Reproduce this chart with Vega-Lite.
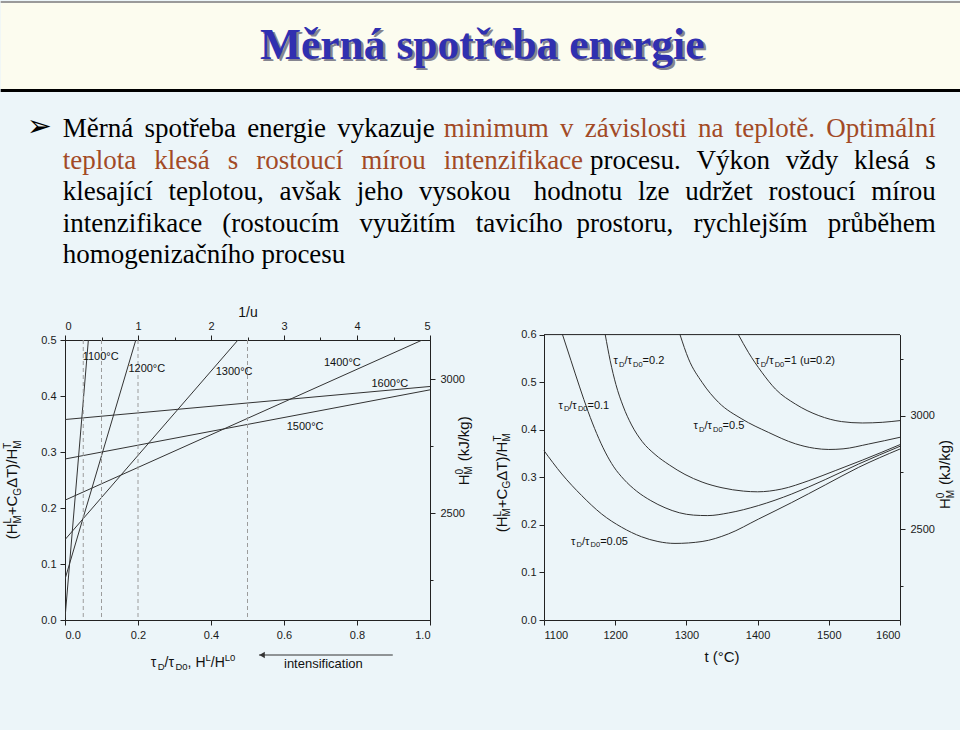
{
  "$schema": "https://vega.github.io/schema/vega-lite/v6.json",
  "padding": 0,
  "autosize": {"type": "pad"},
  "background": "#ecf5f9",
  "columns": 1,
  "align": "none",
  "spacing": 0,
  "datasets": {
    "one": [{}],
    "para": [
      {"line": 1, "side": "left", "style": "plain", "text": "Měrná \u2006spotřeba \u2006energie \u2006vykazuje"},
      {"line": 1, "side": "right", "style": "highlight", "text": "minimum \u2006v \u2006závislosti \u2006na \u2006teplotě. \u2006Optimální"},
      {"line": 2, "side": "left", "style": "highlight", "text": "teplota \u2004\u200Aklesá \u2004\u200As \u2004\u200Arostoucí \u2004\u200Amírou \u2004\u200Aintenzifikace"},
      {"line": 2, "side": "right", "style": "plain", "text": "procesu. \u2004Výkon \u2004vždy \u2004klesá \u2004s"},
      {"line": 3, "side": "left", "style": "plain", "text": "klesající \u2004teplotou, \u2004avšak \u2004jeho \u2004vysokou"},
      {"line": 3, "side": "right", "style": "plain", "text": "hodnotu \u2004lze \u2004udržet \u2004rostoucí \u2004mírou"},
      {"line": 4, "side": "left", "style": "plain", "text": "intenzifikace \u2004\u2006(rostoucím \u2004\u2006využitím \u2004\u2006tavicího"},
      {"line": 4, "side": "right", "style": "plain", "text": "prostoru, \u2004\u2006rychlejším \u2004\u2006průběhem"},
      {"line": 5, "side": "left", "style": "plain", "text": "homogenizačního procesu"}
    ],
    "leftLines": [
      {"T": "1100", "x": 0, "y": 0.003}, {"T": "1100", "x": 0.064, "y": 0.5},
      {"T": "1200", "x": 0, "y": 0.073}, {"T": "1200", "x": 0.194, "y": 0.5},
      {"T": "1300", "x": 0, "y": 0.1435}, {"T": "1300", "x": 0.474, "y": 0.5},
      {"T": "1400", "x": 0, "y": 0.214}, {"T": "1400", "x": 0.979, "y": 0.5},
      {"T": "1500", "x": 0, "y": 0.2875}, {"T": "1500", "x": 1, "y": 0.411},
      {"T": "1600", "x": 0, "y": 0.358}, {"T": "1600", "x": 1, "y": 0.417}
    ],
    "dashes": [{"x": 0.05}, {"x": 0.1}, {"x": 0.2}, {"x": 0.5}],
    "leftLabels": [
      {"label": "1100°C", "x": 0.0485, "y": 0.4637},
      {"label": "1200°C", "x": 0.1737, "y": 0.4423},
      {"label": "1300°C", "x": 0.4129, "y": 0.437},
      {"label": "1400°C", "x": 0.7096, "y": 0.453},
      {"label": "1600°C", "x": 0.8395, "y": 0.4155},
      {"label": "1500°C", "x": 0.6074, "y": 0.3396}
    ],
    "rightCurves": [
      {"tau": "0.05", "t": 1100, "r": 0.356}, {"tau": "0.05", "t": 1125, "r": 0.307}, {"tau": "0.05", "t": 1153, "r": 0.2615},
      {"tau": "0.05", "t": 1181, "r": 0.2228}, {"tau": "0.05", "t": 1209, "r": 0.195}, {"tau": "0.05", "t": 1237, "r": 0.175},
      {"tau": "0.05", "t": 1260, "r": 0.165}, {"tau": "0.05", "t": 1284, "r": 0.161}, {"tau": "0.05", "t": 1322, "r": 0.165},
      {"tau": "0.05", "t": 1359, "r": 0.181}, {"tau": "0.05", "t": 1401, "r": 0.212}, {"tau": "0.05", "t": 1448, "r": 0.247},
      {"tau": "0.05", "t": 1495, "r": 0.284}, {"tau": "0.05", "t": 1542, "r": 0.321}, {"tau": "0.05", "t": 1600, "r": 0.3595},
      {"tau": "0.1", "t": 1126, "r": 0.6}, {"tau": "0.1", "t": 1138, "r": 0.545}, {"tau": "0.1", "t": 1150, "r": 0.49},
      {"tau": "0.1", "t": 1162, "r": 0.438}, {"tau": "0.1", "t": 1174, "r": 0.392}, {"tau": "0.1", "t": 1186, "r": 0.353},
      {"tau": "0.1", "t": 1198, "r": 0.322}, {"tau": "0.1", "t": 1212, "r": 0.296}, {"tau": "0.1", "t": 1230, "r": 0.271},
      {"tau": "0.1", "t": 1250, "r": 0.251}, {"tau": "0.1", "t": 1270, "r": 0.236}, {"tau": "0.1", "t": 1290, "r": 0.2255},
      {"tau": "0.1", "t": 1310, "r": 0.2205}, {"tau": "0.1", "t": 1330, "r": 0.2195}, {"tau": "0.1", "t": 1359, "r": 0.225},
      {"tau": "0.1", "t": 1401, "r": 0.2405}, {"tau": "0.1", "t": 1448, "r": 0.2649}, {"tau": "0.1", "t": 1495, "r": 0.2952},
      {"tau": "0.1", "t": 1542, "r": 0.328}, {"tau": "0.1", "t": 1600, "r": 0.3652},
      {"tau": "0.2", "t": 1186, "r": 0.6}, {"tau": "0.2", "t": 1193, "r": 0.545}, {"tau": "0.2", "t": 1201, "r": 0.495},
      {"tau": "0.2", "t": 1211, "r": 0.45}, {"tau": "0.2", "t": 1223, "r": 0.41}, {"tau": "0.2", "t": 1238, "r": 0.375},
      {"tau": "0.2", "t": 1256, "r": 0.348}, {"tau": "0.2", "t": 1276, "r": 0.326}, {"tau": "0.2", "t": 1298, "r": 0.306},
      {"tau": "0.2", "t": 1322, "r": 0.29}, {"tau": "0.2", "t": 1350, "r": 0.278}, {"tau": "0.2", "t": 1380, "r": 0.271},
      {"tau": "0.2", "t": 1400, "r": 0.2695}, {"tau": "0.2", "t": 1434, "r": 0.2754}, {"tau": "0.2", "t": 1472, "r": 0.293},
      {"tau": "0.2", "t": 1509, "r": 0.314}, {"tau": "0.2", "t": 1547, "r": 0.336}, {"tau": "0.2", "t": 1600, "r": 0.3687},
      {"tau": "0.5", "t": 1291, "r": 0.6}, {"tau": "0.5", "t": 1303, "r": 0.549}, {"tau": "0.5", "t": 1322, "r": 0.4997},
      {"tau": "0.5", "t": 1345, "r": 0.4577}, {"tau": "0.5", "t": 1378, "r": 0.4226}, {"tau": "0.5", "t": 1415, "r": 0.3946},
      {"tau": "0.5", "t": 1453, "r": 0.3705}, {"tau": "0.5", "t": 1480, "r": 0.361}, {"tau": "0.5", "t": 1500, "r": 0.3585},
      {"tau": "0.5", "t": 1520, "r": 0.3598}, {"tau": "0.5", "t": 1556, "r": 0.37}, {"tau": "0.5", "t": 1600, "r": 0.3841},
      {"tau": "1", "t": 1373, "r": 0.6}, {"tau": "1", "t": 1387, "r": 0.5628}, {"tau": "1", "t": 1406, "r": 0.5207},
      {"tau": "1", "t": 1425, "r": 0.4856}, {"tau": "1", "t": 1453, "r": 0.4541}, {"tau": "1", "t": 1486, "r": 0.4297},
      {"tau": "1", "t": 1518, "r": 0.4171}, {"tau": "1", "t": 1547, "r": 0.4142}, {"tau": "1", "t": 1575, "r": 0.4156},
      {"tau": "1", "t": 1600, "r": 0.4192}
    ],
    "rightLabels": [
      {"val": "=0.2", "t": 1197.6, "r": 0.538},
      {"val": "=1 (u=0.2)", "t": 1396.6, "r": 0.538},
      {"val": "=0.1", "t": 1120.2, "r": 0.4436},
      {"val": "=0.5", "t": 1310, "r": 0.4015},
      {"val": "=0.05", "t": 1138, "r": 0.1585}
    ]
  },
  "concat": [
    {
      "width": 895.7,
      "height": 88,
      "view": {"stroke": null},
      "data": {"name": "one"},
      "layer": [
        {
          "mark": {"type": "rect", "color": "#fcfcef"},
          "encoding": {
            "x": {"datum": -0.07179, "type": "quantitative", "scale": {"domain": [0, 1], "nice": false}, "axis": null},
            "x2": {"datum": 1},
            "y": {"datum": 0, "type": "quantitative", "scale": {"domain": [0, 1], "nice": false}, "axis": null},
            "y2": {"datum": 1}
          }
        },
        {
          "mark": {"type": "text", "text": "Měrná spotřeba energie", "font": "Liberation Serif", "fontSize": 43.5, "fontWeight": "bold", "align": "center", "baseline": "alphabetic", "color": "#858590", "dx": 2.5, "dy": 2.5},
          "encoding": {
            "x": {"datum": 0.4658, "type": "quantitative", "scale": {"domain": [0, 1], "nice": false}, "axis": null},
            "y": {"datum": 0.341, "type": "quantitative", "scale": {"domain": [0, 1], "nice": false}, "axis": null}
          }
        },
        {
          "mark": {"type": "text", "text": "Měrná spotřeba energie", "font": "Liberation Serif", "fontSize": 43.5, "fontWeight": "bold", "align": "center", "baseline": "alphabetic", "color": "#3030b0"},
          "encoding": {
            "x": {"datum": 0.4658, "type": "quantitative", "scale": {"domain": [0, 1], "nice": false}, "axis": null},
            "y": {"datum": 0.341, "type": "quantitative", "scale": {"domain": [0, 1], "nice": false}, "axis": null}
          }
        },
        {
          "mark": {"type": "rule", "color": "#000000", "strokeWidth": 3, "strokeCap": "square"},
          "encoding": {
            "x": {"datum": -0.07011, "type": "quantitative", "scale": {"domain": [0, 1], "nice": false}, "axis": null},
            "x2": {"datum": 0.99833},
            "y": {"datum": -0.017045, "type": "quantitative", "scale": {"domain": [0, 1], "nice": false}, "axis": null}
          }
        },
        {
          "mark": {"type": "rule", "color": "#9a9a9a", "strokeWidth": 2, "strokeCap": "square"},
          "encoding": {
            "x": {"datum": -0.07067, "type": "quantitative", "scale": {"domain": [0, 1], "nice": false}, "axis": null},
            "x2": {"datum": 0.99888},
            "y": {"datum": 0.98864, "type": "quantitative", "scale": {"domain": [0, 1], "nice": false}, "axis": null}
          }
        }
      ]
    },
    {
      "width": 895.7,
      "height": 209,
      "data": {"name": "para"},
      "layer": [
        {
          "transform": [{"filter": "datum.side == 'left'"}],
          "mark": {"type": "text", "align": "left", "baseline": "alphabetic", "font": "Liberation Serif", "fontSize": 27},
          "encoding": {
            "x": {"field": "side", "type": "nominal", "scale": {"type": "point", "domain": ["left", "right"], "range": [-2.3, 870.7], "padding": 0}, "axis": null},
            "y": {"field": "line", "type": "quantitative", "scale": {"domain": [1, 5], "range": [44, 170], "nice": false, "zero": false}, "axis": null},
            "text": {"field": "text", "type": "nominal"},
            "color": {"field": "style", "type": "nominal", "scale": {"domain": ["plain", "highlight"], "range": ["#000000", "#a24a26"]}, "legend": null}
          }
        },
        {
          "transform": [{"filter": "datum.side == 'right'"}],
          "mark": {"type": "text", "align": "right", "baseline": "alphabetic", "font": "Liberation Serif", "fontSize": 27},
          "encoding": {
            "x": {"field": "side", "type": "nominal", "scale": {"type": "point", "domain": ["left", "right"], "range": [-2.3, 870.7], "padding": 0}, "axis": null},
            "y": {"field": "line", "type": "quantitative", "scale": {"domain": [1, 5], "range": [44, 170], "nice": false, "zero": false}, "axis": null},
            "text": {"field": "text", "type": "nominal"},
            "color": {"field": "style", "type": "nominal", "scale": {"domain": ["plain", "highlight"], "range": ["#000000", "#a24a26"]}, "legend": null}
          }
        },
        {
          "transform": [{"filter": "datum.line == 1 && datum.side == 'left'"}],
          "mark": {"type": "text", "text": "➢", "font": "DejaVu Sans", "fontSize": 30, "align": "left", "baseline": "alphabetic", "dx": -36, "dy": -1, "color": "#000000"},
          "encoding": {
            "x": {"field": "side", "type": "nominal", "scale": {"type": "point", "domain": ["left", "right"], "range": [-2.3, 870.7], "padding": 0}, "axis": null},
            "y": {"field": "line", "type": "quantitative", "scale": {"domain": [1, 5], "range": [44, 170], "nice": false, "zero": false}, "axis": null}
          }
        }
      ]
    },
    {
      "columns": 2,
      "align": "none",
      "spacing": 14,
      "concat": [
        {
          "width": 365,
          "height": 280,
          "view": {"stroke": "#222222", "strokeWidth": 1},
          "resolve": {"scale": {"x": "independent", "y": "independent"}},
          "layer": [
            {
              "layer": [
                {
                  "data": {"name": "leftLines"},
                  "mark": {"type": "line", "color": "#333333", "strokeWidth": 1, "clip": true},
                  "encoding": {
                    "x": {"field": "x", "type": "quantitative", "title": null, "scale": {"domain": [0, 1], "nice": false},
                      "axis": {"values": [0, 0.1, 0.2, 0.3, 0.4, 0.5, 0.6, 0.7, 0.8, 0.9, 1], "labelExpr": "abs(datum.value*5 - round(datum.value*5)) < 0.000001 ? format(datum.value, '.1f') : ''", "tickSize": {"condition": {"test": "abs(datum.value*5 - round(datum.value*5)) < 0.000001", "value": 5}, "value": 3}, "title": null}},
                    "y": {"field": "y", "type": "quantitative", "title": null, "scale": {"domain": [0, 0.5], "nice": false},
                      "axis": {"values": [0, 0.05, 0.1, 0.15, 0.2, 0.25, 0.3, 0.35, 0.4, 0.45, 0.5], "labelExpr": "abs(datum.value*10 - round(datum.value*10)) < 0.000001 ? format(datum.value, '.1f') : ''", "tickSize": {"condition": {"test": "abs(datum.value*10 - round(datum.value*10)) < 0.000001", "value": 5}, "value": 3}, "title": null}},
                    "detail": {"field": "T", "type": "nominal"}
                  }
                },
                {
                  "data": {"name": "dashes"},
                  "mark": {"type": "rule", "color": "#9c9c9c", "strokeWidth": 1, "strokeDash": [4, 3]},
                  "encoding": {"x": {"field": "x", "type": "quantitative", "title": null, "scale": {"domain": [0, 1], "nice": false}}}
                },
                {
                  "data": {"name": "leftLabels"},
                  "mark": {"type": "text", "align": "left", "baseline": "alphabetic", "fontSize": 11, "color": "#111111"},
                  "encoding": {
                    "x": {"field": "x", "type": "quantitative", "title": null, "scale": {"domain": [0, 1], "nice": false}},
                    "y": {"field": "y", "type": "quantitative", "title": null, "scale": {"domain": [0, 0.5], "nice": false}},
                    "text": {"field": "label", "type": "nominal"}
                  }
                },
                {"data": {"name": "one"}, "mark": {"type": "rule", "opacity": 0}, "encoding": {"x": {"datum": -0.17479, "type": "quantitative", "scale": {"domain": [0, 1], "nice": false}}}},
                {"data": {"name": "one"}, "mark": {"type": "rule", "opacity": 0}, "encoding": {"x": {"datum": 1.12521, "type": "quantitative", "scale": {"domain": [0, 1], "nice": false}}}},
                {"data": {"name": "one"}, "mark": {"type": "rule", "opacity": 0}, "encoding": {"y": {"datum": 0.56643, "type": "quantitative", "scale": {"domain": [0, 0.5], "nice": false}}}},
                {"data": {"name": "one"}, "mark": {"type": "rule", "opacity": 0}, "encoding": {"y": {"datum": -0.19964, "type": "quantitative", "scale": {"domain": [0, 0.5], "nice": false}}}},
                {
                  "data": {"name": "one"},
                  "encoding": {
                    "x": {"datum": -0.1304, "type": "quantitative", "scale": {"domain": [0, 1], "nice": false}},
                    "y": {"datum": 0.144, "type": "quantitative", "scale": {"domain": [0, 0.5], "nice": false}}
                  },
                  "layer": [
                    {"mark": {"type": "text", "text": "(H", "angle": 270, "align": "left", "baseline": "alphabetic", "fontSize": 15, "color": "#111111"}},
                    {"mark": {"type": "text", "text": "L", "angle": 270, "align": "left", "baseline": "alphabetic", "fontSize": 10, "dx": 15.8, "dy": -6, "color": "#111111"}},
                    {"mark": {"type": "text", "text": "M", "angle": 270, "align": "left", "baseline": "alphabetic", "fontSize": 10, "dx": 15.8, "dy": 3.5, "color": "#111111"}},
                    {"mark": {"type": "text", "text": "+C", "angle": 270, "align": "left", "baseline": "alphabetic", "fontSize": 15, "dx": 24.1, "color": "#111111"}},
                    {"mark": {"type": "text", "text": "G", "angle": 270, "align": "left", "baseline": "alphabetic", "fontSize": 10, "dx": 43.7, "dy": 3.5, "color": "#111111"}},
                    {"mark": {"type": "text", "text": "ΔT)/H", "angle": 270, "align": "left", "baseline": "alphabetic", "fontSize": 15, "dx": 51.5, "color": "#111111"}},
                    {"mark": {"type": "text", "text": "T", "angle": 270, "align": "left", "baseline": "alphabetic", "fontSize": 10, "dx": 90.7, "dy": -6, "color": "#111111"}},
                    {"mark": {"type": "text", "text": "M", "angle": 270, "align": "left", "baseline": "alphabetic", "fontSize": 10, "dx": 90.7, "dy": 3.5, "color": "#111111"}}
                  ]
                },
                {
                  "data": {"name": "one"},
                  "encoding": {
                    "x": {"datum": 1.106, "type": "quantitative", "scale": {"domain": [0, 1], "nice": false}},
                    "y": {"datum": 0.2405, "type": "quantitative", "scale": {"domain": [0, 0.5], "nice": false}}
                  },
                  "layer": [
                    {"mark": {"type": "text", "text": "H", "angle": 270, "align": "left", "baseline": "alphabetic", "fontSize": 15, "color": "#111111"}},
                    {"mark": {"type": "text", "text": "0", "angle": 270, "align": "left", "baseline": "alphabetic", "fontSize": 10, "dx": 10.8, "dy": -6, "color": "#111111"}},
                    {"mark": {"type": "text", "text": "M", "angle": 270, "align": "left", "baseline": "alphabetic", "fontSize": 10, "dx": 10.8, "dy": 3.5, "color": "#111111"}},
                    {"mark": {"type": "text", "text": "(kJ/kg)", "angle": 270, "align": "left", "baseline": "alphabetic", "fontSize": 15, "dx": 24, "color": "#111111"}}
                  ]
                },
                {
                  "data": {"name": "one"},
                  "encoding": {
                    "x": {"datum": 0.2348, "type": "quantitative", "scale": {"domain": [0, 1], "nice": false}},
                    "y": {"datum": -0.0845, "type": "quantitative", "scale": {"domain": [0, 0.5], "nice": false}}
                  },
                  "layer": [
                    {"mark": {"type": "text", "text": "τ", "align": "left", "baseline": "alphabetic", "fontSize": 14, "color": "#111111"}},
                    {"mark": {"type": "text", "text": "D", "align": "left", "baseline": "alphabetic", "fontSize": 9.5, "dx": 7, "dy": 3, "color": "#111111"}},
                    {"mark": {"type": "text", "text": "/τ", "align": "left", "baseline": "alphabetic", "fontSize": 14, "dx": 13.9, "color": "#111111"}},
                    {"mark": {"type": "text", "text": "D0", "align": "left", "baseline": "alphabetic", "fontSize": 9.5, "dx": 24.8, "dy": 3, "color": "#111111"}},
                    {"mark": {"type": "text", "text": ", H", "align": "left", "baseline": "alphabetic", "fontSize": 14, "dx": 36.9, "color": "#111111"}},
                    {"mark": {"type": "text", "text": "L", "align": "left", "baseline": "alphabetic", "fontSize": 9.5, "dx": 54.8, "dy": -6, "color": "#111111"}},
                    {"mark": {"type": "text", "text": "/H", "align": "left", "baseline": "alphabetic", "fontSize": 14, "dx": 60.1, "color": "#111111"}},
                    {"mark": {"type": "text", "text": "L0", "align": "left", "baseline": "alphabetic", "fontSize": 9.5, "dx": 74.1, "dy": -6, "color": "#111111"}}
                  ]
                },
                {
                  "data": {"name": "one"},
                  "mark": {"type": "text", "text": "intensification", "align": "left", "baseline": "alphabetic", "fontSize": 13, "color": "#111111"},
                  "encoding": {
                    "x": {"datum": 0.6, "type": "quantitative", "scale": {"domain": [0, 1], "nice": false}},
                    "y": {"datum": -0.0866, "type": "quantitative", "scale": {"domain": [0, 0.5], "nice": false}}
                  }
                },
                {
                  "data": {"name": "one"},
                  "mark": {"type": "rule", "color": "#333333", "strokeWidth": 1},
                  "encoding": {
                    "x": {"datum": 0.5315, "type": "quantitative", "scale": {"domain": [0, 1], "nice": false}},
                    "x2": {"datum": 0.898},
                    "y": {"datum": -0.0625, "type": "quantitative", "scale": {"domain": [0, 0.5], "nice": false}}
                  }
                },
                {
                  "data": {"name": "one"},
                  "mark": {"type": "point", "shape": "triangle-left", "size": 40, "filled": true, "color": "#333333", "opacity": 1},
                  "encoding": {
                    "x": {"datum": 0.54, "type": "quantitative", "scale": {"domain": [0, 1], "nice": false}},
                    "y": {"datum": -0.0625, "type": "quantitative", "scale": {"domain": [0, 0.5], "nice": false}}
                  }
                }
              ]
            },
            {
              "data": {"name": "one"},
              "mark": {"type": "point", "opacity": 0},
              "encoding": {
                "x": {"datum": 0, "type": "quantitative", "scale": {"domain": [0, 5], "nice": false},
                  "axis": {"orient": "top", "values": [0, 0.5, 1, 1.5, 2, 2.5, 3, 3.5, 4, 4.5, 5], "labelExpr": "datum.value % 1 == 0 ? format(datum.value, 'd') : ''", "tickSize": {"condition": {"test": "datum.value % 1 == 0", "value": 5}, "value": 3}, "title": "1/u", "titleFontSize": 14, "titlePadding": 1, "labelPadding": 4}}
              }
            },
            {
              "data": {"name": "one"},
              "mark": {"type": "point", "opacity": 0},
              "encoding": {
                "y": {"datum": 2500, "type": "quantitative", "scale": {"domain": [2100, 3147], "nice": false},
                  "axis": {"orient": "right", "values": [2250, 2500, 2750, 3000], "labelExpr": "datum.value % 500 == 0 ? format(datum.value, 'd') : ''", "tickSize": {"condition": {"test": "datum.value % 500 == 0", "value": 5}, "value": 3}, "title": null, "labelPadding": 5}}
              }
            }
          ]
        },
        {
          "width": 356,
          "height": 280,
          "view": {"stroke": null},
          "resolve": {"scale": {"x": "independent", "y": "independent"}},
          "layer": [
            {
              "layer": [
                {
                  "data": {"name": "rightCurves"},
                  "mark": {"type": "line", "color": "#333333", "strokeWidth": 1, "interpolate": "monotone", "clip": false},
                  "encoding": {
                    "x": {"field": "t", "type": "quantitative", "title": null, "scale": {"domain": [1100, 1600], "nice": false},
                      "axis": {"values": [1100, 1150, 1200, 1250, 1300, 1350, 1400, 1450, 1500, 1550, 1600], "labelExpr": "datum.value % 100 == 0 ? format(datum.value, 'd') : ''", "tickSize": {"condition": {"test": "datum.value % 100 == 0", "value": 5}, "value": 3}, "title": null}},
                    "y": {"field": "r", "type": "quantitative", "title": null, "scale": {"domain": [0, 0.6], "range": [280, -5.4], "nice": false},
                      "axis": {"values": [0, 0.05, 0.1, 0.15, 0.2, 0.25, 0.3, 0.35, 0.4, 0.45, 0.5, 0.55, 0.6], "labelExpr": "abs(datum.value*10 - round(datum.value*10)) < 0.000001 ? format(datum.value, '.1f') : ''", "tickSize": {"condition": {"test": "abs(datum.value*10 - round(datum.value*10)) < 0.000001", "value": 5}, "value": 3}, "title": null, "labelPadding": 3}},
                    "detail": {"field": "tau", "type": "nominal"}
                  }
                },
                {"data": {"name": "one"}, "mark": {"type": "rule", "color": "#222222", "strokeWidth": 1}, "encoding": {"y": {"datum": 0.6, "type": "quantitative", "scale": {"domain": [0, 0.6], "range": [280, -5.4], "nice": false}}}},
                {"data": {"name": "one"}, "mark": {"type": "rule", "opacity": 0}, "encoding": {"x": {"datum": 1026.48, "type": "quantitative", "scale": {"domain": [1100, 1600], "nice": false}}}},
                {"data": {"name": "one"}, "mark": {"type": "rule", "opacity": 0}, "encoding": {"y": {"datum": 0.66685, "type": "quantitative", "scale": {"domain": [0, 0.6], "range": [280, -5.4], "nice": false}}}},
                {
                  "data": {"name": "one"},
                  "mark": {"type": "text", "text": "t (°C)", "align": "center", "baseline": "alphabetic", "fontSize": 15, "color": "#111111"},
                  "encoding": {
                    "x": {"datum": 1350, "type": "quantitative", "scale": {"domain": [1100, 1600], "nice": false}},
                    "y": {"datum": -0.0889, "type": "quantitative", "scale": {"domain": [0, 0.6], "range": [280, -5.4], "nice": false}}
                  }
                },
                {
                  "data": {"name": "rightLabels"},
                  "encoding": {
                    "x": {"field": "t", "type": "quantitative", "title": null, "scale": {"domain": [1100, 1600], "nice": false}},
                    "y": {"field": "r", "type": "quantitative", "title": null, "scale": {"domain": [0, 0.6], "range": [280, -5.4], "nice": false}}
                  },
                  "layer": [
                    {"mark": {"type": "text", "text": "τ", "align": "left", "baseline": "alphabetic", "fontSize": 11, "color": "#111111"}},
                    {"mark": {"type": "text", "text": "D", "align": "left", "baseline": "alphabetic", "fontSize": 7.5, "dx": 5.5, "dy": 2.5, "color": "#111111"}},
                    {"mark": {"type": "text", "text": "/τ", "align": "left", "baseline": "alphabetic", "fontSize": 11, "dx": 10.9, "color": "#111111"}},
                    {"mark": {"type": "text", "text": "D0", "align": "left", "baseline": "alphabetic", "fontSize": 7.5, "dx": 19.5, "dy": 2.5, "color": "#111111"}},
                    {"mark": {"type": "text", "align": "left", "baseline": "alphabetic", "fontSize": 11, "dx": 29.1, "color": "#111111"}, "encoding": {"text": {"field": "val", "type": "nominal"}}}
                  ]
                },
                {
                  "data": {"name": "one"},
                  "encoding": {
                    "x": {"datum": 1047.6, "type": "quantitative", "scale": {"domain": [1100, 1600], "nice": false}},
                    "y": {"datum": 0.1844, "type": "quantitative", "scale": {"domain": [0, 0.6], "range": [280, -5.4], "nice": false}}
                  },
                  "layer": [
                    {"mark": {"type": "text", "text": "(H", "angle": 270, "align": "left", "baseline": "alphabetic", "fontSize": 15, "color": "#111111"}},
                    {"mark": {"type": "text", "text": "L", "angle": 270, "align": "left", "baseline": "alphabetic", "fontSize": 10, "dx": 15.8, "dy": -6, "color": "#111111"}},
                    {"mark": {"type": "text", "text": "M", "angle": 270, "align": "left", "baseline": "alphabetic", "fontSize": 10, "dx": 15.8, "dy": 3.5, "color": "#111111"}},
                    {"mark": {"type": "text", "text": "+C", "angle": 270, "align": "left", "baseline": "alphabetic", "fontSize": 15, "dx": 24.1, "color": "#111111"}},
                    {"mark": {"type": "text", "text": "G", "angle": 270, "align": "left", "baseline": "alphabetic", "fontSize": 10, "dx": 43.7, "dy": 3.5, "color": "#111111"}},
                    {"mark": {"type": "text", "text": "ΔT)/H", "angle": 270, "align": "left", "baseline": "alphabetic", "fontSize": 15, "dx": 51.5, "color": "#111111"}},
                    {"mark": {"type": "text", "text": "T", "angle": 270, "align": "left", "baseline": "alphabetic", "fontSize": 10, "dx": 90.7, "dy": -6, "color": "#111111"}},
                    {"mark": {"type": "text", "text": "M", "angle": 270, "align": "left", "baseline": "alphabetic", "fontSize": 10, "dx": 90.7, "dy": 3.5, "color": "#111111"}}
                  ]
                },
                {
                  "data": {"name": "one"},
                  "encoding": {
                    "x": {"datum": 1670.7, "type": "quantitative", "scale": {"domain": [1100, 1600], "nice": false}},
                    "y": {"datum": 0.2334, "type": "quantitative", "scale": {"domain": [0, 0.6], "range": [280, -5.4], "nice": false}}
                  },
                  "layer": [
                    {"mark": {"type": "text", "text": "H", "angle": 270, "align": "left", "baseline": "alphabetic", "fontSize": 15, "color": "#111111"}},
                    {"mark": {"type": "text", "text": "0", "angle": 270, "align": "left", "baseline": "alphabetic", "fontSize": 10, "dx": 10.8, "dy": -6, "color": "#111111"}},
                    {"mark": {"type": "text", "text": "M", "angle": 270, "align": "left", "baseline": "alphabetic", "fontSize": 10, "dx": 10.8, "dy": 3.5, "color": "#111111"}},
                    {"mark": {"type": "text", "text": "(kJ/kg)", "angle": 270, "align": "left", "baseline": "alphabetic", "fontSize": 15, "dx": 24, "color": "#111111"}}
                  ]
                }
              ]
            },
            {
              "data": {"name": "one"},
              "mark": {"type": "point", "opacity": 0},
              "encoding": {
                "y": {"datum": 2500, "type": "quantitative", "scale": {"domain": [2100, 3357], "range": [280, -5.4], "nice": false},
                  "axis": {"orient": "right", "values": [2250, 2500, 2750, 3000, 3250], "labelExpr": "datum.value % 500 == 0 ? format(datum.value, 'd') : ''", "tickSize": {"condition": {"test": "datum.value % 500 == 0", "value": 5}, "value": 3}, "title": null, "labelPadding": 5}}
              }
            }
          ]
        }
      ]
    }
  ],
  "config": {
    "view": {"stroke": null},
    "text": {"font": "Liberation Sans"},
    "axis": {
      "labelFont": "Liberation Sans",
      "labelFontSize": 11,
      "labelColor": "#1a1a1a",
      "titleFont": "Liberation Sans",
      "titleFontWeight": "normal",
      "titleColor": "#111111",
      "tickColor": "#222222",
      "domainColor": "#222222",
      "grid": false,
      "labelPadding": 4,
      "labelOverlap": false
    }
  }
}
